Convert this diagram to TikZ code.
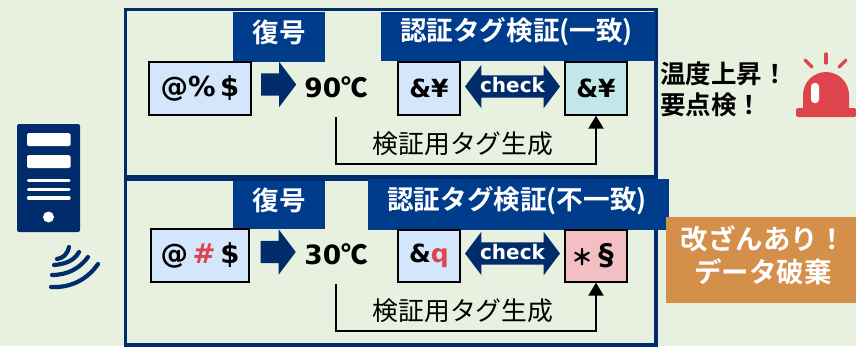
\documentclass[tikz,border=0pt]{standalone}
\usepackage{fontspec}
\setmainfont{DejaVu Sans}
\newfontfamily\jp{Noto Sans CJK JP}
\newfontfamily\jpb{Noto Sans CJK JP Bold}
\usetikzlibrary{arrows.meta,shapes.arrows}
\definecolor{bg}{HTML}{E8F1E0}
\definecolor{navy}{HTML}{002C6B}
\definecolor{hdr}{HTML}{003C8C}
\definecolor{lblue}{HTML}{D4E6FB}
\definecolor{teal}{HTML}{C3E6E8}
\definecolor{pinkb}{HTML}{F2BFC3}
\definecolor{redc}{HTML}{DE444C}
\definecolor{orangeb}{HTML}{D48F4A}
\tikzset{
  x=1pt,y=-1pt,
  frame/.style={draw=navy,line width=3.6pt},
  header/.style={fill=hdr,inner sep=0,anchor=center},
  headtxt/.style={text=white,font=\jpb\fontsize{26.6}{28}\selectfont,inner sep=0},
  tagbox/.style={draw=black,line width=1.3pt,inner sep=0,font=\bfseries\fontsize{25}{28}\selectfont},
  temp/.style={inner sep=0,font=\bfseries\fontsize{26.5}{28}\selectfont},
  checkl/.style={inner sep=0,text=white,font=\bfseries\fontsize{20}{22}\selectfont},
  gen/.style={inner sep=0,font=\jp\fontsize{25.8}{28}\selectfont},
  link/.style={draw=black,line width=2pt,-{Triangle[length=13pt,width=15pt]}},
  wave/.style={draw=navy,line width=4.2pt,line cap=round},
  warn/.style={inner sep=0,anchor=west,font=\jpb\fontsize{25.5}{28}\selectfont},
  orangetxt/.style={inner sep=0,text=white,font=\jpb\fontsize{27.5}{30}\selectfont},
  srvbar/.style={fill=white,rounded corners=1.5pt},
  srvline/.style={draw=white,line width=3.4pt,line cap=round},
  ray/.style={draw=redc,line width=3.2pt,line cap=round},
  rightarrow/.style={single arrow,fill=navy,single arrow head extend=11.5pt,single arrow tip angle=106,minimum height=35pt,inner sep=0},
  bothways/.style={double arrow,fill=navy,double arrow head extend=10.5pt,double arrow tip angle=106,minimum height=95pt,inner sep=0}
}
\newcommand{\boxat}[6]{\node[tagbox,fill=#6,minimum width=#3 pt,minimum height=#4 pt] (#1) at (#2) {#5};}
\newcommand{\shaft}{\rule{0pt}{22pt}}
\begin{document}
\begin{tikzpicture}
\path[use as bounding box,fill=bg] (0,0) rectangle (856,346);
% frames
\draw[frame] (125.5,9.5) rectangle (656,345);
\draw[navy,line width=5.5pt] (125,178) -- (657,178);
% headers
\node[header,minimum width=92pt,minimum height=50pt] (h1) at (279,37) {};
\node[header,minimum width=274pt,minimum height=49pt] (h2) at (518,36.5) {};
\node[header,minimum width=92pt,minimum height=48pt] (h3) at (279,205) {};
\node[header,minimum width=301pt,minimum height=51pt] (h4) at (518.5,204.5) {};
\node[headtxt] (h1t) at (279,32.5) {復号};
\node[headtxt] (h2t) at (516.5,32) {認証タグ検証(一致)};
\node[headtxt] (h3t) at (279,200) {復号};
\node[headtxt] (h4t) at (517,201) {認証タグ検証(不一致)};
% row 1
\boxat{a1}{200,88.5}{102}{53}{\fontsize{27.5}{30}\selectfont @\%\,\$}{lblue}
\node[rightarrow] (ar1) at (274.5,84.5) {\shaft};
\node[temp] (t1) at (336,87) {90{\jpb ℃}};
\boxat{b1}{429,88.5}{62}{53}{\&¥}{lblue}
\boxat{c1}{596,88.5}{62}{53}{\&¥}{teal}
\node[bothways] (d1) at (512.5,86.5) {\shaft};
\node[checkl] (k1) at (512.5,85) {check};
\coordinate (s1) at (336,117);
\draw[link] (s1) |- (400,164) -| (c1.south);
\node[gen] (g1) at (463,144) {検証用タグ生成};
% row 2
\boxat{a2}{200,255.5}{98}{53}{\fontsize{27.5}{30}\selectfont @\,\textcolor{redc}{\#}\,\$}{lblue}
\node[rightarrow] (ar2) at (274,252) {\shaft};
\node[temp] (t2) at (336,254) {30{\jpb ℃}};
\boxat{b2}{429,256}{62}{52}{\&\textcolor{redc}{q}}{lblue}
\boxat{c2}{596,256}{62}{52}{{\jpb\fontsize{22}{24}\selectfont ＊\fontsize{28}{30}\selectfont\kern-1pt §}}{pinkb}
\node[bothways] (d2) at (512.5,253.5) {\shaft};
\node[checkl] (k2) at (512.5,252) {check};
\coordinate (s2) at (336,284);
\draw[link] (s2) |- (400,331) -| (c2.south);
\node[gen] (g2) at (463,311) {検証用タグ生成};
% warning
\node[warn] (w1) at (660,74) {温度上昇！};
\node[warn] (w2) at (660,105) {要点検！};
% alarm
\fill[redc,rounded corners=1.5pt] (796,108) rectangle (856,117);
\fill[redc] (803,110) -- (803,95) arc[start angle=180,end angle=360,radius=23] -- (849,110) -- cycle;
\fill[white,rounded corners=3.5pt] (811,83) rectangle (819,103);
\draw[ray] (826,54) -- (826,63);
\draw[ray] (805,60) -- (812,67);
\draw[ray] (846,60) -- (839,67);
% orange
\node[fill=orangeb,minimum width=190pt,minimum height=86pt,inner sep=0] (o) at (761,260) {};
\node[orangetxt] (o1) at (763,239) {改ざんあり！};
\node[orangetxt] (o2) at (763,272) {データ破棄};
% server
\fill[navy,rounded corners=2pt] (17,124) rectangle (80,232);
\fill[srvbar] (27,133) rectangle (70.5,146);
\fill[srvbar] (27,155) rectangle (70.5,168);
\draw[srvline] (28.5,180.5) -- (69,180.5);
\draw[srvline] (28.5,189.5) -- (69,189.5);
\draw[srvline] (28.5,198) -- (69,198);
\fill[white] (48.5,217) circle (5.5);
% waves
\draw[wave] (57,259) .. controls (63,258) and (67,255) .. (69,247);
\draw[wave] (54,265) .. controls (65,264) and (74,261) .. (79,252);
\draw[wave] (52,275) .. controls (68,275) and (80,268) .. (88,257);
\draw[wave] (51,287) .. controls (70,288) and (87,280) .. (98,264);
\end{tikzpicture}
\end{document}
